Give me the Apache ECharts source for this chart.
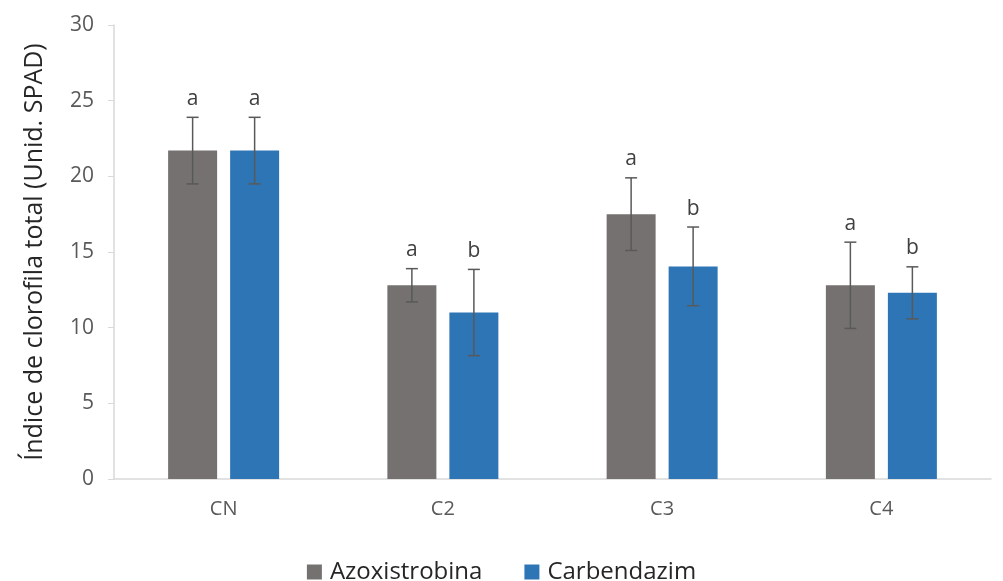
<!DOCTYPE html>
<html>
<head>
<meta charset="utf-8">
<script src="https://cdn.jsdelivr.net/npm/echarts@6/dist/echarts.min.js"></script>
<style>
  html, body { margin: 0; padding: 0; background: #fff; }
  #chart { width: 1003px; height: 581px; }
</style>
</head>
<body>
<div id="chart"></div>
<script>
// Tratamientos y medias del índice de clorofila (± desviación)
const categories = ['CN', 'C2', 'C3', 'C4'];
const azoxMean = [21.7, 12.8, 17.5, 12.8];
const azoxErr  = [2.2, 1.1, 2.4, 2.85];
const azoxLetters = ['a', 'a', 'a', 'a'];
const carbMean = [21.7, 11.0, 14.05, 12.3];
const carbErr  = [2.2, 2.85, 2.6, 1.72];
const carbLetters = ['a', 'b', 'b', 'b'];
const yTicks = [0, 5, 10, 15, 20, 25, 30];

const FONT = '"Open Sans", Lato, sans-serif';
const GRAY = '#767171';
const BLUE = '#2E75B6';
const BAR_W = 49;
const BAR_GAP = 13;

// Error bars with significance letters, placed over each bar of the group
function errorSeries(name, means, errs, letters, side) {
  return {
    type: 'custom',
    name: name + ' err',
    z: 5,
    data: means.map((m, i) => [i, m, errs[i], letters[i]]),
    renderItem: function (params, api) {
      const i = api.value(0);
      const m = api.value(1);
      const e = api.value(2);
      const hi = api.coord([i, m + e]);
      const lo = api.coord([i, m - e]);
      const x = hi[0] + side * (BAR_W + BAR_GAP) / 2;
      const cap = 6;
      const st = { stroke: '#595959', lineWidth: 1.5 };
      return {
        type: 'group',
        children: [
          { type: 'line', shape: { x1: x, y1: hi[1], x2: x, y2: lo[1] }, style: st },
          { type: 'line', shape: { x1: x - cap, y1: hi[1], x2: x + cap, y2: hi[1] }, style: st },
          { type: 'line', shape: { x1: x - cap, y1: lo[1], x2: x + cap, y2: lo[1] }, style: st },
          { type: 'text', x: x, y: hi[1] - 8,
            style: { text: letters[i], fill: '#404040', font: '21px ' + FONT,
                     align: 'center', verticalAlign: 'bottom' } }
        ]
      };
    }
  };
}

const chart = echarts.init(document.getElementById('chart'));
chart.setOption({
  animation: false,
  textStyle: { fontFamily: FONT },
  grid: { left: 114, right: 12, top: 25, bottom: 102 },
  legend: {
    data: ['Azoxistrobina', 'Carbendazim'],
    top: 555,
    left: 'center',
    itemWidth: 15,
    itemHeight: 15,
    itemGap: 42,
    icon: 'rect',
    textStyle: { fontSize: 24, color: '#262626', fontFamily: FONT, padding: [0, 0, 0, 3] }
  },
  xAxis: {
    type: 'category',
    data: categories,
    axisLine: { lineStyle: { color: '#D9D9D9', width: 1.5 } },
    axisTick: { show: false },
    axisLabel: { fontSize: 20, color: '#595959', margin: 20 }
  },
  yAxis: {
    type: 'value',
    min: 0, max: 30, interval: 5,
    name: 'Índice de clorofila total (Unid. SPAD)',
    nameLocation: 'middle',
    nameGap: 67,
    nameTextStyle: { fontSize: 25, color: '#262626' },
    axisLine: { show: true, lineStyle: { color: '#D9D9D9', width: 1.5 } },
    axisTick: { show: true, length: 6, lineStyle: { color: '#D9D9D9' } },
    splitLine: { show: false },
    axisLabel: { fontSize: 21, color: '#595959', margin: 20,
                 formatter: v => yTicks.includes(v) ? String(v) : '' }
  },
  series: [
    { name: 'Azoxistrobina', type: 'bar', data: azoxMean, barWidth: BAR_W,
      barGap: (BAR_GAP / BAR_W * 100) + '%', itemStyle: { color: GRAY } },
    { name: 'Carbendazim', type: 'bar', data: carbMean, barWidth: BAR_W,
      itemStyle: { color: BLUE } },
    errorSeries('Azoxistrobina', azoxMean, azoxErr, azoxLetters, -1),
    errorSeries('Carbendazim', carbMean, carbErr, carbLetters, 1)
  ]
});
</script>
</body>
</html>
